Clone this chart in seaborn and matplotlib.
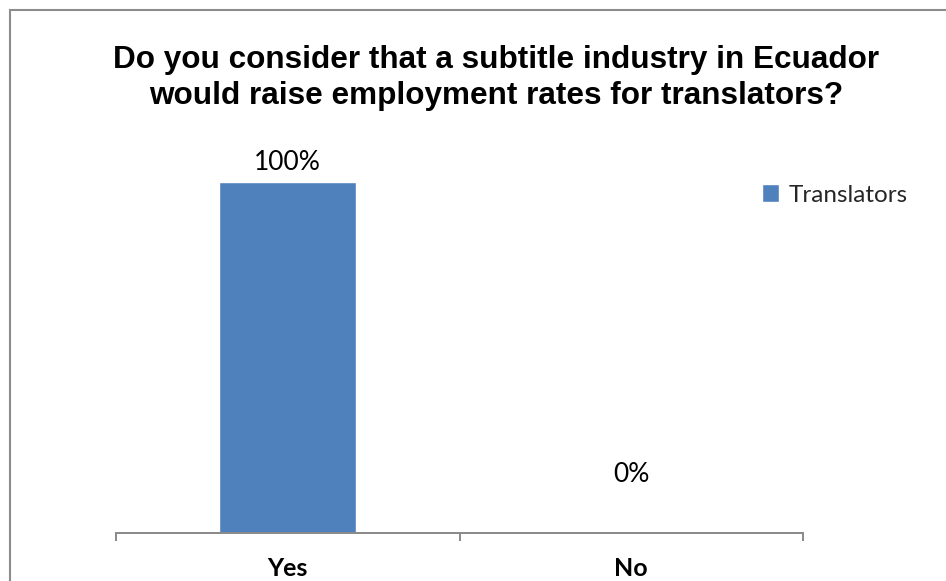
import matplotlib
matplotlib.use("Agg")
import matplotlib.pyplot as plt
import seaborn as sns
import pandas as pd
from matplotlib.patches import Rectangle

categories = ["Yes", "No"]
values = [1.00, 0.00]
value_labels = ["100%", "0%"]
series_name = "Translators"
title = "Do you consider that a subtitle industry in Ecuador\nwould raise employment rates for translators?"

sns.set_theme(style="white")
plt.rcParams["font.family"] = ["Lato", "DejaVu Sans"]

W, H = 946, 581
fig = plt.figure(figsize=(W / 100, H / 100), dpi=100)
fig.patch.set_facecolor("white")

# plot area in pixel terms
left, right, bottom, top = 116, 803, 533, 112
ax = fig.add_axes([left / W, 1 - bottom / H, (right - left) / W, (bottom - top) / H])

df = pd.DataFrame({"category": categories, "value": values})
sns.barplot(data=df, x="category", y="value", color="#4F81BD", saturation=1,
            width=0.4, ax=ax, label=series_name)
if ax.get_legend() is not None:
    ax.get_legend().remove()

ax.set_xlim(-0.5, 1.5)
ax.set_ylim(0, 1.2)
ax.set_xlabel("")
ax.set_ylabel("")
ax.set_yticks([])
for s in ["left", "right", "top"]:
    ax.spines[s].set_visible(False)
ax.spines["bottom"].set_color("#898989")
ax.spines["bottom"].set_linewidth(1.4)

# tick marks at category boundaries, labels at category centres
ax.set_xticks([-0.5, 0.5, 1.5])
ax.set_xticklabels([])
ax.tick_params(axis="x", which="major", direction="out", length=6, width=1.4,
               color="#898989", bottom=True)
ax.set_xticks([0, 1], minor=True)
ax.set_xticklabels(categories, minor=True, fontweight="bold", fontsize=18)
ax.tick_params(axis="x", which="minor", length=0, pad=17, labelcolor="black")

# value labels
offsets = [14.5, 42]
for i, (v, lab) in enumerate(zip(values, value_labels)):
    ax.annotate(lab, (i, v), xytext=(0, offsets[i]), textcoords="offset points",
                ha="center", va="center", fontsize=19, color="black")

fig.text(496 / W, 1 - 78 / H, title, ha="center", va="center",
         fontsize=22.7, fontweight="bold", family="Liberation Sans",
         linespacing=1.26, color="black")

handles, labels = ax.get_legend_handles_labels()
fig.legend(handles, labels, loc="center left", bbox_to_anchor=(762 / W, 1 - 195 / H),
           frameon=False, fontsize=17.5, handlelength=0.7, handleheight=0.7,
           handletextpad=0.4, borderpad=0, borderaxespad=0)

# chart area border
fig.patches.append(Rectangle((10 / W, -0.2), 1.2, (1 - 10 / H) + 0.2, transform=fig.transFigure,
                             fill=False, edgecolor="#8c8c8c", linewidth=1.5, zorder=10))

fig.savefig("out.png", dpi=100)
